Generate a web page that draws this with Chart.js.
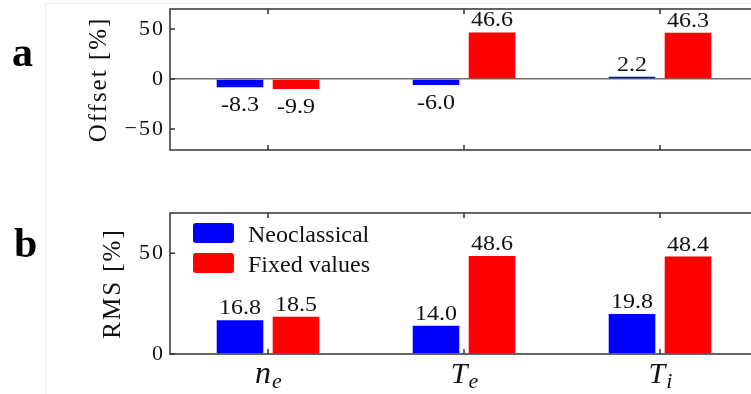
<!DOCTYPE html>
<html><head><meta charset="utf-8">
<script src="https://cdn.jsdelivr.net/npm/chart.js@4"></script>
<style>
html,body{margin:0;padding:0;background:#fff;overflow:hidden;width:751px;height:394px}
#wrap{position:relative;width:751px;height:394px;overflow:hidden}
.frame{position:absolute;left:45px;top:3px;width:800px;height:400px;border-left:1px solid #ececec;border-top:1px solid #ececec}
.panel{position:absolute;left:0;width:760px}
#top{top:0;height:170px}
#bot{top:170px;height:224px}
.tag{position:absolute;font:bold 42px "Liberation Serif",serif;color:#000;line-height:normal}
</style></head>
<body><div id="wrap">
<div class="frame"></div>
<div class="panel" id="top"><canvas id="c1" width="760" height="170"></canvas></div>
<div class="panel" id="bot"><canvas id="c2" width="760" height="224"></canvas></div>
<div class="tag" style="left:12px;top:28px">a</div>
<div class="tag" style="left:14px;top:219px">b</div>
</div>
<script>
// ---- data ----
const categories = ['n_e', 'T_e', 'T_i'];
const seriesNames = ['Neoclassical', 'Fixed values'];
const offsetNeo = [-8.3, -6.0, 2.2];
const offsetFixed = [-9.9, 46.6, 46.3];
const rmsNeo = [16.8, 14.0, 19.8];
const rmsFixed = [18.5, 48.6, 48.4];
const offsetTicks = [-50, 0, 50];
const rmsTicks = [0, 50];
const colors = ['#0000ff', '#ff0000'];

const SERIF = '"Liberation Serif", "Times New Roman", serif';

// wider letter spacing for the axis texts (ticks and titles)
const spacing = {
  id: 'spacing',
  beforeDraw(chart) { chart.ctx.letterSpacing = '2px'; },
  beforeDatasetsDraw(chart) { chart.ctx.letterSpacing = '0px'; }
};

const frameTicks = {
  id: 'frameTicks',
  afterDatasetsDraw(chart) {
    const {ctx, chartArea: a, scales: {x, y}} = chart;
    ctx.save();
    ctx.strokeStyle = '#333';
    ctx.lineWidth = 1.5;
    ctx.strokeRect(a.left, a.top, a.right - a.left, a.bottom - a.top);
    ctx.beginPath();
    y.ticks.forEach(t => {
      const py = y.getPixelForValue(t.value);
      ctx.moveTo(a.left, py); ctx.lineTo(a.left + 5, py);
      ctx.moveTo(a.right, py); ctx.lineTo(a.right - 5, py);
    });
    categories.forEach((c, i) => {
      const px = x.getPixelForValue(i);
      ctx.moveTo(px, a.top); ctx.lineTo(px, a.top + 5);
      ctx.moveTo(px, a.bottom); ctx.lineTo(px, a.bottom - 5);
    });
    ctx.stroke();
    ctx.restore();
  }
};

const valueLabels = {
  id: 'valueLabels',
  afterDatasetsDraw(chart) {
    const ctx = chart.ctx;
    ctx.save();
    ctx.font = '20px ' + SERIF;
    ctx.fillStyle = '#111';
    ctx.textAlign = 'center';
    ctx.textBaseline = 'alphabetic';
    chart.data.datasets.forEach((ds, di) => {
      chart.getDatasetMeta(di).data.forEach((bar, i) => {
        const v = ds.data[i];
        const y = v < 0 ? bar.y + 24 : bar.y - 6;
        ctx.save();
        ctx.translate(bar.x, y);
        ctx.scale(1.2, 1);
        ctx.fillText(v.toFixed(1), 0, 0);
        ctx.restore();
      });
    });
    ctx.restore();
  }
};

const legendBox = {
  id: 'legendBox',
  afterDraw(chart) {
    const {ctx, chartArea: a} = chart;
    ctx.save();
    chart.data.datasets.forEach((ds, i) => {
      const bx = a.left + 23, by = a.top + 10 + i * 30;
      ctx.fillStyle = ds.backgroundColor;
      ctx.beginPath();
      ctx.roundRect(bx, by, 41, 20, 3);
      ctx.fill();
      ctx.fillStyle = '#111';
      ctx.font = '24px ' + SERIF;
      ctx.textBaseline = 'alphabetic';
      ctx.textAlign = 'left';
      ctx.fillText(ds.label, bx + 55, by + 19);
    });
    ctx.restore();
  }
};

const mathLabels = {
  id: 'mathLabels',
  afterDraw(chart) {
    const {ctx, chartArea: a, scales: {x}} = chart;
    ctx.save();
    ctx.fillStyle = '#111';
    ctx.textBaseline = 'alphabetic';
    ctx.textAlign = 'left';
    categories.forEach((c, i) => {
      const [base, sub] = c.split('_');
      const mainSize = base === 'n' ? 32 : 30;
      ctx.font = 'italic ' + mainSize + 'px ' + SERIF;
      const w1 = ctx.measureText(base).width;
      ctx.font = 'italic 22px ' + SERIF;
      const w2 = ctx.measureText(sub).width;
      const cx = x.getPixelForValue(i);
      const sx = cx - (w1 + w2) / 2;
      const by = a.bottom + 29;
      ctx.font = 'italic ' + mainSize + 'px ' + SERIF;
      ctx.fillText(base, sx, by);
      ctx.font = 'italic 22px ' + SERIF;
      ctx.fillText(sub, sx + w1 + 1, by + 5);
    });
    ctx.restore();
  }
};

function makeChart(id, dataA, dataB, opts) {
  return new Chart(document.getElementById(id), {
    type: 'bar',
    data: {
      labels: categories,
      datasets: [
        {label: seriesNames[0], data: dataA, backgroundColor: colors[0]},
        {label: seriesNames[1], data: dataB, backgroundColor: colors[1]}
      ]
    },
    options: {
      responsive: false,
      animation: false,
      devicePixelRatio: 1,
      layout: {padding: opts.padding},
      datasets: {bar: {barPercentage: 0.832, categoryPercentage: 0.5714}},
      plugins: {legend: {display: false}, tooltip: {enabled: false}},
      scales: {
        x: {display: false},
        y: {
          min: opts.min, max: opts.max,
          afterBuildTicks: s => { s.ticks = opts.ticks.map(v => ({value: v})); },
          afterFit: s => { s.width = opts.axisWidth; s.paddingTop = 0; s.paddingBottom = 0; },
          border: {display: false},
          grid: {
            drawTicks: false,
            lineWidth: 1.5,
            color: c => (opts.zeroLine && c.tick && c.tick.value === 0) ? '#6e6e6e' : 'rgba(0,0,0,0)'
          },
          ticks: {
            padding: 5,
            color: '#111',
            font: {family: SERIF, size: 22},
            callback: v => v < 0 ? '\u2212' + Math.abs(v) : String(v)
          },
          title: {
            display: true, text: opts.title, color: '#111',
            font: {family: SERIF, size: 25}, padding: {top: 4, bottom: 0}
          }
        }
      }
    },
    plugins: [spacing].concat(opts.plugins)
  });
}

makeChart('c1', offsetNeo, offsetFixed, {
  padding: {left: 80, top: 9, right: 2, bottom: 20},
  min: -71, max: 70, ticks: offsetTicks, axisWidth: 90, zeroLine: true,
  title: 'Offset [%]', plugins: [frameTicks, valueLabels]
});
makeChart('c2', rmsNeo, rmsFixed, {
  padding: {left: 94, top: 43, right: 2, bottom: 40},
  min: 0, max: 70, ticks: rmsTicks, axisWidth: 76, zeroLine: false,
  title: 'RMS [%]', plugins: [frameTicks, valueLabels, legendBox, mathLabels]
});
</script>
</body></html>
